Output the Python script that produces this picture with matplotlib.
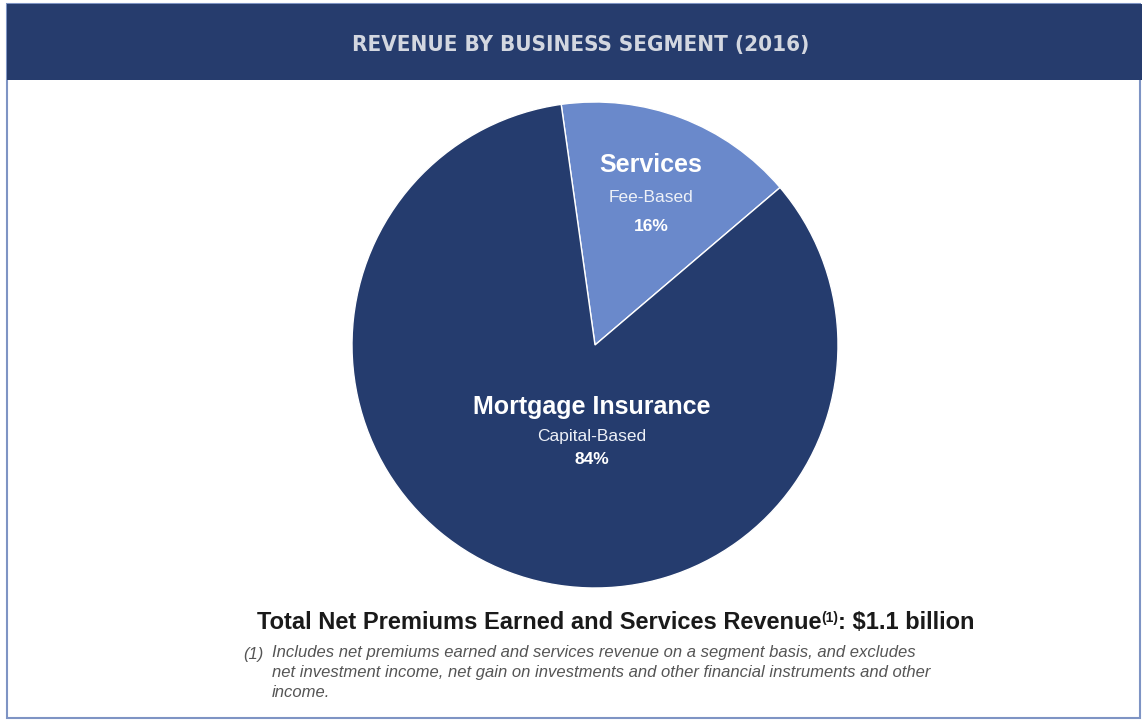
import matplotlib.pyplot as plt
from matplotlib.patches import Rectangle

segments = ["Services", "Mortgage Insurance"]
subtitles = ["Fee-Based", "Capital-Based"]
shares = [16, 84]
colors = ["#6a89cb", "#253c6e"]

W, H = 1142, 727
fig = plt.figure(figsize=(W / 100, H / 100), dpi=100)
fig.patch.set_facecolor("white")

# frame + header band (pixel coords -> figure fraction)
def px(x, y):
    return x / W, 1 - y / H

fig.patches.append(Rectangle(px(7, 718), 1133 / W, 714 / H, transform=fig.transFigure,
                             facecolor="none", edgecolor="#7e94c4", lw=1.5))
fig.patches.append(Rectangle(px(7, 80), 1135 / W, 76 / H, transform=fig.transFigure,
                             facecolor="#263c6d", edgecolor="none"))
fig.text(*px(581, 45), "REVENUE BY BUSINESS SEGMENT (2016)", ha="center", va="center",
         color="#d3d7e0", fontsize=16, fontweight="bold", fontstretch="condensed",
         family="DejaVu Sans")

# pie
cx, cy, r = 595, 345, 243
ax = fig.add_axes([(cx - r) / W, (H - cy - r) / H, 2 * r / W, 2 * r / H])
ax.pie(shares, colors=colors, startangle=40.4, counterclock=True,
       wedgeprops=dict(edgecolor="white", linewidth=1))
ax.set_xlim(-1, 1)
ax.set_ylim(-1, 1)
ax.axis("off")

lab_font = "Liberation Sans"
# Services label
fig.text(*px(651, 165), segments[0], ha="center", va="center", color="white",
         fontsize=18, fontweight="bold", family=lab_font)
fig.text(*px(651, 198), subtitles[0], ha="center", va="center", color="#eef1f8",
         fontsize=12.5, family=lab_font)
fig.text(*px(651, 227), f"{shares[0]}%", ha="center", va="center", color="white",
         fontsize=12.5, fontweight="bold", family=lab_font)
# Mortgage label
fig.text(*px(592, 407), segments[1], ha="center", va="center", color="white",
         fontsize=18, fontweight="bold", family=lab_font)
fig.text(*px(592, 436), subtitles[1], ha="center", va="center", color="#eef1f8",
         fontsize=12.5, family=lab_font)
fig.text(*px(592, 460), f"{shares[1]}%", ha="center", va="center", color="white",
         fontsize=12.5, fontweight="bold", family=lab_font)

# total line, built from three pieces so the (1) can be a small superscript
rend = fig.canvas.get_renderer()
tk = dict(color="#1a1a1a", fontweight="bold", family=lab_font, va="baseline", ha="left")
parts = [("Total Net Premiums Earned and Services Revenue", 17, 0),
         ("(1)", 10, 7),
         (": $1.1 billion", 17, 0)]
pieces = []
for s, fs, dy in parts:
    t = fig.text(0, 0, s, fontsize=fs, **tk)
    pieces.append((t, dy, t.get_window_extent(rend).width))
total_w = sum(p[2] for p in pieces)
x = 616 - total_w / 2
for t, dy, w in pieces:
    t.set_position(px(x, 629 - dy))
    x += w

fig.text(*px(243, 654), "(1)", ha="left", va="center", color="#555555",
         fontsize=12, style="italic", family=lab_font)
foot = ("Includes net premiums earned and services revenue on a segment basis, and excludes\n"
        "net investment income, net gain on investments and other financial instruments and other\n"
        "income.")
fig.text(*px(272, 645), foot, ha="left", va="top", color="#555555", fontsize=12,
         style="italic", family=lab_font, linespacing=1.42)

plt.savefig("out.png", dpi=100)
